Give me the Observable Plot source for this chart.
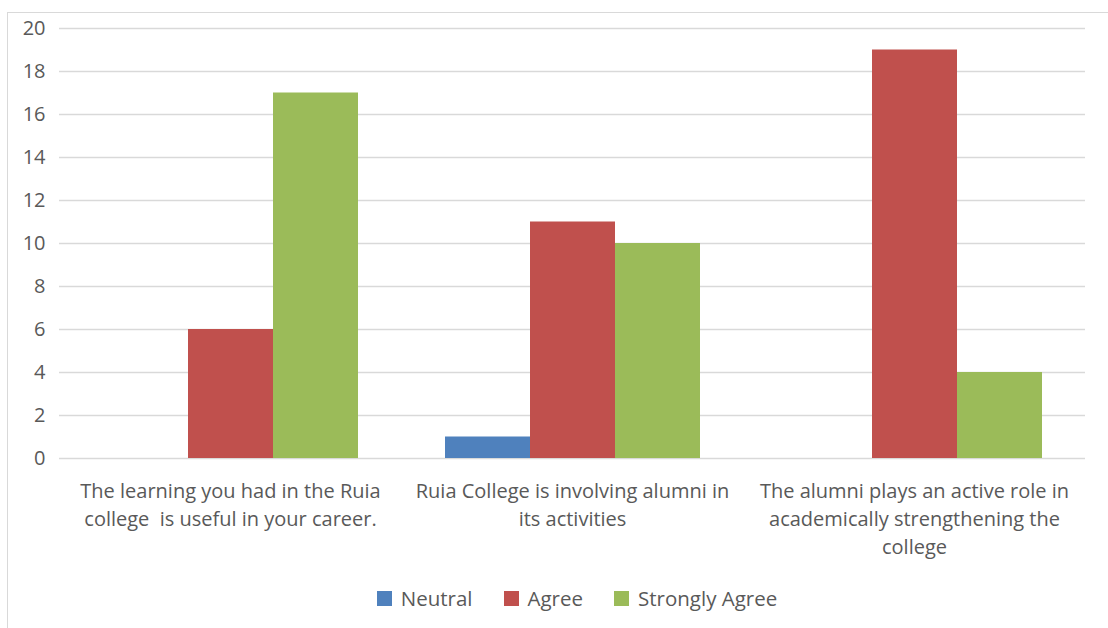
<!DOCTYPE html>
<html>
<head>
<meta charset="utf-8">
<script src="https://cdn.jsdelivr.net/npm/d3@7"></script>
<script src="https://cdn.jsdelivr.net/npm/@observablehq/plot@0.6"></script>
<style>
  html, body { margin: 0; padding: 0; background: #fff; }
  body { width: 1108px; height: 628px; position: relative; overflow: hidden; font-family: "Open Sans", sans-serif; }
  #frame { position: absolute; left: 7px; top: 12px; width: 1200px; height: 700px; border: 1px solid #d9d9d9; }
  #chart { position: absolute; left: 0; top: 0; }
  #legend { position: absolute; left: 0; top: 575px; width: 1108px; height: 46px; display: flex; justify-content: center; align-items: center; gap: 31px; color: #595959; font-size: 20.5px; padding-left: 46px; box-sizing: border-box; }
  #legend .item { display: flex; align-items: center; gap: 9px; }
  #legend .sw { width: 15px; height: 15px; display: inline-block; }
</style>
</head>
<body>
<div id="frame"></div>
<div id="chart"></div>
<div id="legend"></div>
<script>
const categories = [
  "The learning you had in the Ruia college  is useful in your career.",
  "Ruia College is involving alumni in its activities",
  "The alumni plays an active role in academically strengthening the college"
];
const categoryLabels = [
  "The learning you had in the Ruia\ncollege  is useful in your career.",
  "Ruia College is involving alumni in\nits activities",
  "The alumni plays an active role in\nacademically strengthening the\ncollege"
];
const series = ["Neutral", "Agree", "Strongly Agree"];
const neutral = [0, 1, 0];
const agree = [6, 11, 19];
const stronglyAgree = [17, 10, 4];
const colors = ["#4f81bd", "#c0504d", "#9bbb59"];
const yTicks = [0, 2, 4, 6, 8, 10, 12, 14, 16, 18, 20];

const valuesBySeries = [neutral, agree, stronglyAgree];
const table = [];
categories.forEach((c, i) => {
  series.forEach((s, j) => {
    table.push({category: c, series: s, value: valuesBySeries[j][i]});
  });
});
const labelOf = new Map(categories.map((c, i) => [c, categoryLabels[i]]));

const chart = Plot.plot({
  width: 1108,
  height: 575,
  marginTop: 28,
  marginBottom: 117,
  marginLeft: 59,
  marginRight: 23,
  style: {fontFamily: "'Open Sans', sans-serif", background: "transparent"},
  fx: {domain: categories, padding: 0, label: null, axis: null},
  x: {domain: series, paddingInner: 0, paddingOuter: 0.5, axis: null},
  y: {domain: [0, 20], label: null, axis: null},
  color: {domain: series, range: colors},
  marks: [
    Plot.gridY(yTicks, {stroke: "#d9d9d9", strokeOpacity: 1, strokeWidth: 1.5}),
    Plot.axisY(yTicks, {tickSize: 0, tickPadding: 14, fontSize: 20, fill: "#595959", label: null}),
    Plot.barY(table, {fx: "category", x: "series", y: "value", fill: "series"}),
    Plot.axisFx({anchor: "bottom", tickSize: 0, tickPadding: 20, fontSize: 20, lineHeight: 1.4, fill: "#595959", tickFormat: d => labelOf.get(d), label: null})
  ]
});
document.getElementById("chart").appendChild(chart);

const legend = document.getElementById("legend");
series.forEach((s, j) => {
  const item = document.createElement("div");
  item.className = "item";
  const sw = document.createElement("span");
  sw.className = "sw";
  sw.style.background = colors[j];
  const t = document.createElement("span");
  t.textContent = s;
  item.appendChild(sw);
  item.appendChild(t);
  legend.appendChild(item);
});
</script>
</body>
</html>
